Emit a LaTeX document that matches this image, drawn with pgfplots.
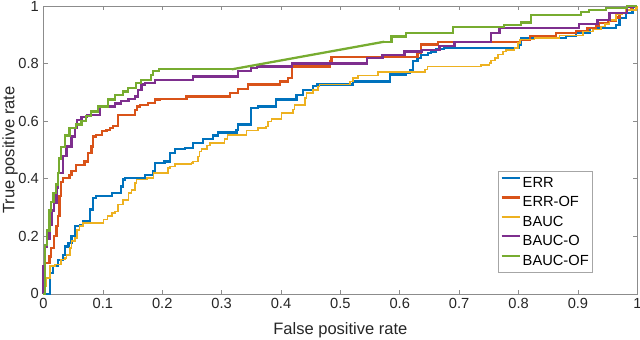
\documentclass[border=0pt]{standalone}
\usepackage{fontspec}
\setmainfont{Liberation Sans}
\usepackage{pgfplots}
\pgfplotsset{compat=1.18}
\definecolor{cerr}{rgb}{0,0.447,0.741}
\definecolor{cerrof}{rgb}{0.850,0.325,0.098}
\definecolor{cbauc}{rgb}{0.929,0.694,0.125}
\definecolor{cbauco}{rgb}{0.494,0.184,0.556}
\definecolor{cbaucof}{rgb}{0.466,0.674,0.188}
\begin{document}
\begin{tikzpicture}
\begin{axis}[name=ax,scale only axis,width=445.5pt,height=216pt,
  xmin=0,xmax=1,ymin=0,ymax=1,clip=false,
  xtick={0,0.1,0.2,0.3,0.4,0.5,0.6,0.7,0.8,0.9,1},
  ytick={0,0.2,0.4,0.6,0.8,1},
  /pgf/number format/assume math mode=true,
  tick align=inside,major tick length=3.2pt,
  tick style={black!45,line width=0.5pt},
  axis line style={black!45,line width=0.6pt},
  tick label style={font=\fontsize{11}{13}\selectfont,text=black!85},
  xlabel={False positive rate},ylabel={True positive rate},
  label style={font=\fontsize{12.4}{14}\selectfont,text=black!85,inner sep=0pt},
  xlabel style={at={(axis description cs:0.5,0)},anchor=north,yshift=-21.5pt},
  ylabel style={at={(axis description cs:-0.0698,0.5)},anchor=north},
  legend style={at={(0.9243,0.428)},anchor=north east,draw=black!35,line width=0.5pt,
    font=\fontsize{11}{13}\selectfont,inner sep=1.5pt,row sep=0pt,
    nodes={inner sep=1pt,text height=9.6pt,text depth=3pt},cells={anchor=west}},
  legend image code/.code={\draw[#1] (0pt,3.6pt) -- (14pt,3.6pt);},
  every axis plot/.append style={const plot,line width=1.7pt}]
% ERR
\addplot[cerr] coordinates {(0,0) (0.011,0.073) (0.016,0.096) (0.025,0.119) (0.033,0.136) (0.036,0.165) (0.042,0.177) (0.047,0.200) (0.053,0.235) (0.061,0.240) (0.067,0.252) (0.078,0.293) (0.084,0.333) (0.089,0.339) (0.115,0.350) (0.131,0.373) (0.134,0.397) (0.137,0.403) (0.171,0.414) (0.185,0.426) (0.188,0.455) (0.204,0.460) (0.213,0.490) (0.221,0.503) (0.238,0.507) (0.252,0.524) (0.269,0.538) (0.286,0.550) (0.294,0.561) (0.325,0.570) (0.328,0.588) (0.350,0.646) (0.361,0.651) (0.392,0.675) (0.426,0.692) (0.437,0.709) (0.454,0.723) (0.460,0.727) (0.521,0.738) (0.583,0.762) (0.611,0.767) (0.617,0.779) (0.622,0.808) (0.630,0.820) (0.636,0.831) (0.647,0.837) (0.653,0.842) (0.661,0.851) (0.675,0.854) (0.800,0.866) (0.804,0.889) (0.880,0.897) (0.897,0.906) (0.920,0.924) (0.964,0.935) (0.970,0.958) (0.981,0.976) (0.992,1.000) (1,1)};
\addlegendentry{ERR}
% ERR-OF
\addplot[cerrof] coordinates {(0,0) (0.002,0.108) (0.010,0.130) (0.013,0.160) (0.018,0.200) (0.022,0.235) (0.025,0.270) (0.027,0.339) (0.030,0.390) (0.033,0.403) (0.044,0.414) (0.047,0.428) (0.055,0.449) (0.069,0.460) (0.075,0.490) (0.081,0.512) (0.084,0.547) (0.089,0.553) (0.098,0.565) (0.106,0.570) (0.112,0.576) (0.117,0.582) (0.126,0.622) (0.154,0.640) (0.157,0.651) (0.162,0.657) (0.176,0.663) (0.188,0.675) (0.196,0.677) (0.241,0.686) (0.314,0.698) (0.328,0.712) (0.344,0.727) (0.398,0.738) (0.412,0.750) (0.418,0.767) (0.419,0.790) (0.482,0.808) (0.485,0.823) (0.630,0.837) (0.636,0.866) (0.664,0.874) (0.802,0.883) (0.819,0.897) (0.863,0.906) (0.897,0.912) (0.916,0.924) (0.930,0.932) (0.936,0.941) (0.950,0.947) (0.964,0.960) (0.970,0.976) (0.981,0.987) (0.990,1.000) (1,1)};
\addlegendentry{ERR-OF}
% BAUC
\addplot[cbauc,line width=1.2pt] coordinates {(0,0) (0.002,0.026) (0.005,0.056) (0.011,0.096) (0.019,0.102) (0.030,0.119) (0.036,0.125) (0.039,0.136) (0.045,0.160) (0.047,0.183) (0.053,0.194) (0.056,0.223) (0.061,0.235) (0.067,0.247) (0.101,0.258) (0.108,0.270) (0.115,0.281) (0.120,0.287) (0.126,0.310) (0.134,0.327) (0.143,0.350) (0.148,0.362) (0.154,0.385) (0.157,0.397) (0.174,0.403) (0.185,0.420) (0.210,0.437) (0.213,0.443) (0.221,0.452) (0.249,0.455) (0.252,0.460) (0.260,0.478) (0.263,0.495) (0.266,0.503) (0.275,0.515) (0.280,0.524) (0.305,0.538) (0.310,0.553) (0.342,0.568) (0.361,0.576) (0.375,0.582) (0.378,0.599) (0.384,0.608) (0.401,0.628) (0.420,0.640) (0.423,0.657) (0.440,0.680) (0.443,0.698) (0.454,0.709) (0.462,0.721) (0.465,0.727) (0.516,0.738) (0.521,0.750) (0.530,0.758) (0.563,0.770) (0.642,0.779) (0.647,0.790) (0.737,0.796) (0.751,0.802) (0.754,0.811) (0.760,0.820) (0.765,0.831) (0.774,0.842) (0.779,0.848) (0.793,0.854) (0.799,0.871) (0.802,0.883) (0.827,0.889) (0.869,0.897) (0.909,0.912) (0.925,0.918) (0.939,0.929) (0.946,0.938) (0.953,0.952) (0.964,0.970) (0.975,0.976) (0.981,0.987) (0.998,0.993) (1,1)};
\addlegendentry{BAUC}
% BAUC-O
\addplot[cbauco] coordinates {(0,0) (0,0.096) (0.003,0.165) (0.006,0.190) (0.010,0.240) (0.014,0.290) (0.018,0.317) (0.022,0.370) (0.025,0.420) (0.033,0.478) (0.039,0.512) (0.047,0.547) (0.053,0.576) (0.057,0.605) (0.064,0.615) (0.073,0.622) (0.095,0.651) (0.120,0.661) (0.131,0.669) (0.143,0.677) (0.154,0.686) (0.159,0.709) (0.165,0.727) (0.171,0.733) (0.188,0.742) (0.252,0.755) (0.328,0.773) (0.350,0.785) (0.360,0.790) (0.418,0.800) (0.545,0.820) (0.571,0.830) (0.608,0.842) (0.637,0.848) (0.667,0.860) (0.692,0.874) (0.753,0.906) (0.768,0.924) (0.902,0.938) (0.933,0.952) (0.953,0.976) (0.983,0.998) (0.995,1) (1,1)};
\addlegendentry{BAUC-O}
% BAUC-OF
\addplot[cbaucof] coordinates {(0,0) (0.002,0.100) (0.003,0.170) (0.006,0.220) (0.010,0.290) (0.013,0.320) (0.017,0.350) (0.021,0.380) (0.024,0.420) (0.026,0.470) (0.030,0.510) (0.036,0.550) (0.044,0.576) (0.055,0.588) (0.064,0.600) (0.072,0.617) (0.080,0.634) (0.092,0.651) (0.109,0.675) (0.120,0.692) (0.134,0.703) (0.142,0.715) (0.156,0.733) (0.164,0.744) (0.181,0.761) (0.184,0.773) (0.195,0.780) (0.317,0.780)};
\addlegendentry{BAUC-OF}
\addplot[cbaucof,sharp plot,forget plot] coordinates {(0.317,0.780) (0.574,0.876)};
\addplot[cbaucof,forget plot] coordinates {(0.574,0.876) (0.586,0.894) (0.611,0.906) (0.689,0.927) (0.776,0.935) (0.804,0.943) (0.821,0.970) (0.905,0.978) (0.919,0.987) (0.947,0.993) (0.983,1.000) (1,1)};
\end{axis}
\pgfresetboundingbox
\path[use as bounding box] ([shift={(-32.6pt,-34.3pt)}]ax.south west) rectangle ([shift={(2pt,4.5pt)}]ax.north east);
\end{tikzpicture}
\end{document}
